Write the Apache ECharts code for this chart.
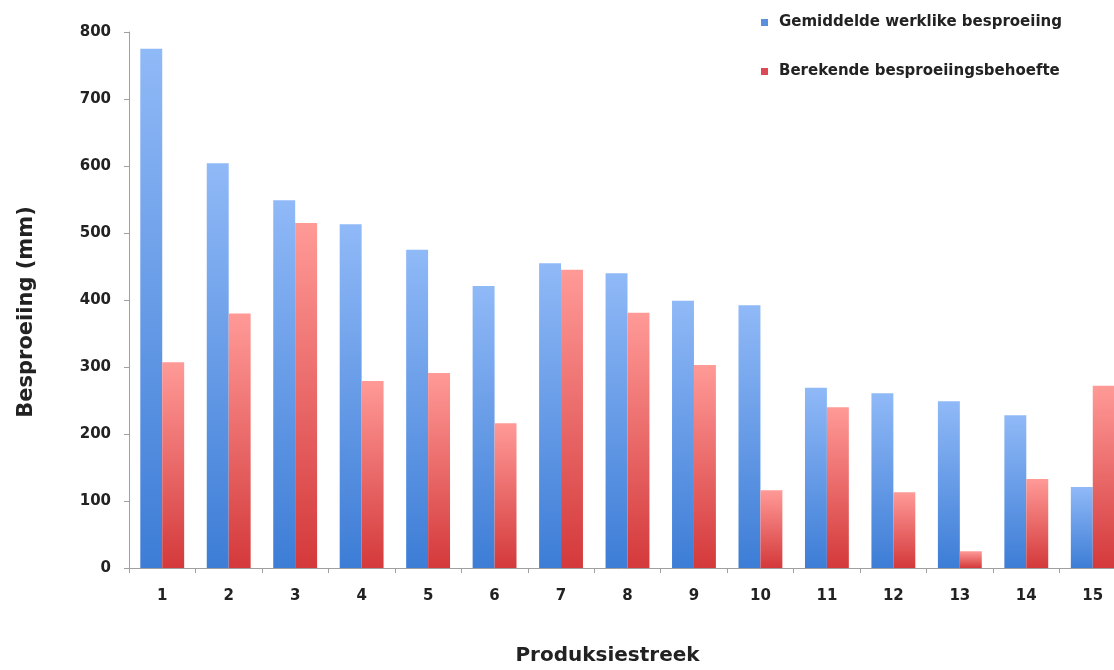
<!DOCTYPE html>
<html><head><meta charset="utf-8">
<script src="https://cdn.jsdelivr.net/npm/echarts@6/dist/echarts.min.js"></script>
<style>html,body{margin:0;padding:0;background:#fff}#c{width:1114px;height:670px}</style>
</head><body><div id="c"></div>
<script>
const categories = ['1','2','3','4','5','6','7','8','9','10','11','12','13','14','15'];
const werklik = [775, 604, 549, 513, 475, 421, 455, 440, 399, 392, 269, 261, 249, 228, 121];
const behoefte = [307, 380, 515, 279, 291, 216, 445, 381, 303, 116, 240, 113, 25, 133, 272];
const yTicks = [0, 100, 200, 300, 400, 500, 600, 700, 800];
const seriesNames = ['Gemiddelde werklike besproeiing', 'Berekende besproeiingsbehoefte'];

const font = '"DejaVu Sans", sans-serif';
function grad(top, bottom){
  return new echarts.graphic.LinearGradient(0,0,0,1,[{offset:0,color:top},{offset:1,color:bottom}]);
}
const chart = echarts.init(document.getElementById('c'));
chart.setOption({
  animation:false,
  grid:{left:129, top:32, width:997, height:536, outerBoundsMode:'none', containLabel:false},
  legend:{
    orient:'vertical', left:756, top:10, itemGap:34, itemWidth:7, itemHeight:7,
    icon:'rect',
    textStyle:{fontFamily:font, fontWeight:'bold', fontSize:15, color:'#222', padding:[0,0,0,6]},
    data:[{name:seriesNames[0], itemStyle:{color:'#5a8fdc'}},{name:seriesNames[1], itemStyle:{color:'#dc4b55'}}]
  },
  xAxis:{
    type:'category', data:categories,
    name:'Produksiestreek', nameLocation:'middle', nameGap:78,
    nameTextStyle:{fontFamily:font, fontWeight:'bold', fontSize:20, color:'#222', padding:[0,40,0,0]},
    axisLine:{lineStyle:{color:'#a0a0a0'}},
    axisTick:{show:true, length:5, lineStyle:{color:'#a0a0a0'}},
    axisLabel:{fontFamily:font, fontWeight:'bold', fontSize:15, color:'#222', margin:21}
  },
  yAxis:{
    type:'value', min:yTicks[0], max:yTicks[yTicks.length-1], interval:100,
    name:'Besproeiing (mm)', nameLocation:'middle', nameGap:92, nameRotate:90,
    nameTextStyle:{fontFamily:font, fontWeight:'bold', fontSize:21, color:'#222', padding:[0,24,0,0]},
    axisLine:{show:true, lineStyle:{color:'#a0a0a0'}},
    axisTick:{show:true, length:5, lineStyle:{color:'#a0a0a0'}},
    splitLine:{show:false},
    axisLabel:{fontFamily:font, fontWeight:'bold', fontSize:15, color:'#222', margin:18}
  },
  series:[
    {name:seriesNames[0], type:'bar', data:werklik, barGap:'0%', barCategoryGap:'34%',
     itemStyle:{color:grad('#90b9f7','#3d7dd6')}},
    {name:seriesNames[1], type:'bar', data:behoefte, barGap:'0%', barCategoryGap:'34%',
     itemStyle:{color:grad('#ff9a97','#d4393b')}}
  ]
});
</script></body></html>
